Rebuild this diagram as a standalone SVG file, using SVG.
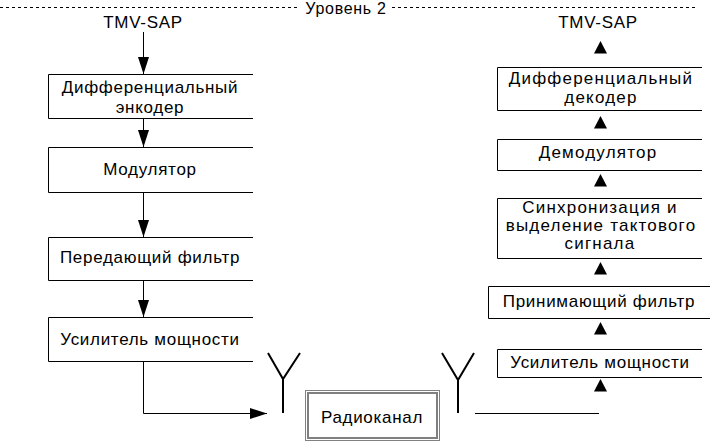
<svg xmlns="http://www.w3.org/2000/svg" width="711" height="445" viewBox="0 0 711 445">
<style>
text{font-family:"Liberation Sans",Arial,sans-serif;font-size:17px;fill:#000;text-anchor:middle;letter-spacing:0.7px}
.box{fill:none;stroke:#000;stroke-width:1}
.ln{fill:none;stroke:#000;stroke-width:1}
.ant{fill:none;stroke:#000;stroke-width:2}
.tri{fill:#000}
.dot{fill:none;stroke:#000;stroke-width:1;stroke-dasharray:1 1}
</style>
<defs>
<marker id="ah" markerUnits="userSpaceOnUse" markerWidth="18" markerHeight="12" viewBox="0 0 18 12" refX="17" refY="6" orient="auto">
<polygon points="0,0.5 17,6 0,11.5" fill="#000"/>
</marker>
</defs>
<g id="level">
<line x1="0" y1="7.5" x2="300" y2="7.5" stroke="#000" stroke-dasharray="3 3"/>
<line x1="392" y1="7.5" x2="698" y2="7.5" stroke="#000" stroke-dasharray="3 3"/>
<text x="346" y="14" style="font-size:16px">Уровень 2</text>
</g>
<g id="tx-in"><text x="143" y="28">TMV-SAP</text></g>
<g id="enc"><path class="box" d="M253,74.5H48.5V118.5H253"/><text x="150" y="93">Дифференциальный</text><text x="150" y="113">энкодер</text></g>
<g id="mod"><path class="box" d="M253,147.5H48.5V192.5H253"/><text x="150" y="175">Модулятор</text></g>
<g id="txf"><path class="box" d="M253,237.5H48.5V280.5H253"/><text x="150" y="263">Передающий фильтр</text></g>
<g id="txamp"><path class="box" d="M253,317.5H48.5V361.5H253"/><text x="150" y="345">Усилитель мощности</text></g>
<g id="ant-tx"><path class="ant" d="M268,353L283,379L300,353M283,378V413"/></g>
<g id="radio"><rect class="dot" x="305.5" y="390.5" width="134" height="50"/><rect class="dot" x="307.5" y="392.5" width="130" height="46" style="stroke-dashoffset:1"/><rect class="dot" x="308.5" y="393.5" width="128" height="44"/><text x="372" y="423">Радиоканал</text></g>
<g id="ant-rx"><path class="ant" d="M442,353L458,380L474,353M458,379V413"/></g>
<g id="rx-out"><text x="598" y="28">TMV-SAP</text></g>
<g id="dec"><path class="box" d="M702,67.5H497.5V110.5H702"/><text x="601" y="84" style="letter-spacing:1.2px">Дифференциальный</text><text x="601" y="103" style="letter-spacing:1.2px">декодер</text></g>
<g id="demod"><path class="box" d="M702,139.5H497.5V170.5H702"/><text x="598" y="158" style="letter-spacing:1.2px">Демодулятор</text></g>
<g id="sync"><path class="box" d="M702,198.5H497.5V258.5H702"/><text x="600" y="213" style="letter-spacing:1.2px">Синхронизация и</text><text x="601" y="231" style="letter-spacing:1.2px">выделение тактового</text><text x="600" y="249" style="letter-spacing:1.2px">сигнала</text></g>
<g id="rxf"><path class="box" d="M710,286.5H488.5V318.5H710"/><text x="599" y="307">Принимающий фильтр</text></g>
<g id="rxamp"><path class="box" d="M702,349.5H497.5V377.5H702"/><text x="600" y="368">Усилитель мощности</text></g>
<g id="connectors">
<line class="ln" x1="143.5" y1="32" x2="143.5" y2="74" marker-end="url(#ah)"/>
<line class="ln" x1="143.5" y1="118" x2="143.5" y2="147" marker-end="url(#ah)"/>
<line class="ln" x1="143.5" y1="192" x2="143.5" y2="237" marker-end="url(#ah)"/>
<line class="ln" x1="143.5" y1="280" x2="143.5" y2="317" marker-end="url(#ah)"/>
<path class="ln" d="M143.5,361V413.5H267" marker-end="url(#ah)"/>
<line class="ln" x1="475" y1="413.5" x2="599" y2="413.5"/>
<polygon class="tri" points="600.5,41 594,53.5 607,53.5"/>
<polygon class="tri" points="600.5,116 594,128.5 607,128.5"/>
<polygon class="tri" points="600.5,174 594,186.5 607,186.5"/>
<polygon class="tri" points="600.5,262 594,274.5 607,274.5"/>
<polygon class="tri" points="600.5,322 594,334.5 607,334.5"/>
<polygon class="tri" points="600.5,379 594,391.5 607,391.5"/>
</g>
</svg>
